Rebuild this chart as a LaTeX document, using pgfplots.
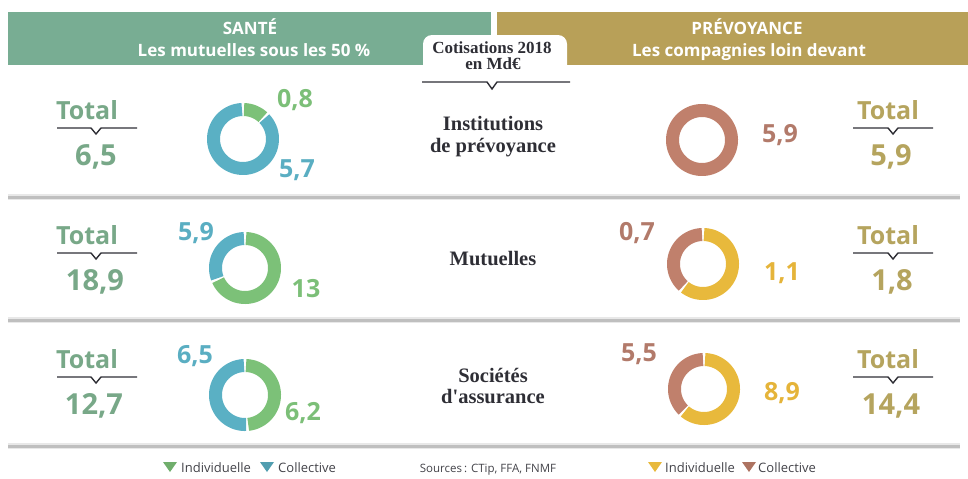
\documentclass[border=0pt]{standalone}
\usepackage{pgfplots}
\pgfplotsset{compat=1.18}
\usepackage{fontspec}
\setmainfont{Open Sans}
\newfontfamily\serif{Liberation Serif}
\definecolor{hgreen}{HTML}{78AD93}
\definecolor{hgold}{HTML}{B8A058}
\definecolor{tgreen}{HTML}{78A888}
\definecolor{tgold}{HTML}{B5A45E}
\definecolor{dgreen}{HTML}{7CC178}
\definecolor{dblue}{HTML}{5AB0C4}
\definecolor{dbrown}{HTML}{C0806C}
\definecolor{dyellow}{HTML}{E8B93C}
\definecolor{lgreen}{HTML}{7CBF78}
\definecolor{lblue}{HTML}{5AAEC2}
\definecolor{lbrown}{HTML}{B27A6A}
\definecolor{lyellow}{HTML}{E5B43A}
\definecolor{ink}{HTML}{2E2E35}
\newcommand{\hfont}{\fontsize{17}{17}\selectfont\bfseries}
\newcommand{\tfont}{\fontsize{25}{25}\selectfont\bfseries}
\newcommand{\nfont}{\fontsize{29}{29}\selectfont\bfseries}
\newcommand{\lfont}{\fontsize{25}{25}\selectfont\bfseries}
\newcommand{\cfont}{\fontsize{20.5}{22}\selectfont\serif\bfseries}
\newcommand{\gfont}{\fontsize{13}{13}\selectfont}
\begin{document}
\begin{tikzpicture}
\begin{axis}[scale only axis, width=968pt, height=477pt,
  xmin=0, xmax=968, ymin=0, ymax=477, y dir=reverse,
  hide axis, clip=false,
  seg/.style={samples=60, line width=13pt, no markers}]
\path (axis cs:0,0) rectangle (axis cs:968,477);
% headers
\fill[hgreen] (axis cs:8,12) rectangle (axis cs:491,65);
\fill[hgold] (axis cs:497,12) rectangle (axis cs:968,65);
\fill[white, rounded corners=9pt] (axis cs:423,35) rectangle (axis cs:567,90);
\node[anchor=base, text=white, font=\hfont] at (axis cs:250,34) {SANTÉ};
\node[anchor=base, text=white, font=\hfont] at (axis cs:254,56) {Les mutuelles sous les 50 \%};
\node[anchor=base, text=white, font=\hfont] at (axis cs:747,34) {PRÉVOYANCE};
\node[anchor=base, text=white, font=\hfont] at (axis cs:749,56) {Les compagnies loin devant};
\node[anchor=base, text=ink, font=\fontsize{17}{17}\selectfont\serif\bfseries] at (axis cs:492,53) {Cotisations 2018};
\node[anchor=base, text=ink, font=\fontsize{17}{17}\selectfont\serif\bfseries] at (axis cs:493,69) {en Md€};
\draw[ink, line width=1.4pt] (axis cs:422,82) -- (axis cs:487,82) -- (axis cs:492,89) -- (axis cs:497,82) -- (axis cs:570,82);
% separators
\draw[gray!18, line width=6pt] (axis cs:8,197) -- (axis cs:960,197);
\draw[gray!50, line width=3pt] (axis cs:8,197) -- (axis cs:960,197);
\draw[gray!18, line width=6pt] (axis cs:8,320) -- (axis cs:960,320);
\draw[gray!50, line width=3pt] (axis cs:8,320) -- (axis cs:960,320);
\draw[gray!18, line width=6pt] (axis cs:8,446) -- (axis cs:960,446);
\draw[gray!50, line width=3pt] (axis cs:8,446) -- (axis cs:960,446);
% Totals left
\node[anchor=base, text=tgreen, font=\tfont] at (axis cs:87,119) {Total};
\draw[ink, line width=1.4pt] (axis cs:57,128) -- (axis cs:91,128) -- (axis cs:96,134) -- (axis cs:101,128) -- (axis cs:137,128);
\node[anchor=base, text=tgreen, font=\nfont] at (axis cs:96,165) {6,5};
\node[anchor=base, text=tgreen, font=\tfont] at (axis cs:87,244) {Total};
\draw[ink, line width=1.4pt] (axis cs:57,253) -- (axis cs:91,253) -- (axis cs:96,259) -- (axis cs:101,253) -- (axis cs:137,253);
\node[anchor=base, text=tgreen, font=\nfont] at (axis cs:95,290) {18,9};
\node[anchor=base, text=tgreen, font=\tfont] at (axis cs:87,368) {Total};
\draw[ink, line width=1.4pt] (axis cs:57,377) -- (axis cs:91,377) -- (axis cs:96,383) -- (axis cs:101,377) -- (axis cs:137,377);
\node[anchor=base, text=tgreen, font=\nfont] at (axis cs:94,414) {12,7};
% Totals right
\node[anchor=base, text=tgold, font=\tfont] at (axis cs:888,119) {Total};
\draw[ink, line width=1.4pt] (axis cs:853,128) -- (axis cs:888,128) -- (axis cs:893,134) -- (axis cs:898,128) -- (axis cs:933,128);
\node[anchor=base, text=tgold, font=\nfont] at (axis cs:891,165) {5,9};
\node[anchor=base, text=tgold, font=\tfont] at (axis cs:888,244) {Total};
\draw[ink, line width=1.4pt] (axis cs:853,253) -- (axis cs:888,253) -- (axis cs:893,259) -- (axis cs:898,253) -- (axis cs:933,253);
\node[anchor=base, text=tgold, font=\nfont] at (axis cs:892,290) {1,8};
\node[anchor=base, text=tgold, font=\tfont] at (axis cs:888,368) {Total};
\draw[ink, line width=1.4pt] (axis cs:853,377) -- (axis cs:888,377) -- (axis cs:893,383) -- (axis cs:898,377) -- (axis cs:933,377);
\node[anchor=base, text=tgold, font=\nfont] at (axis cs:891,414) {14,4};
% centre labels
\node[anchor=base, text=ink, font=\cfont] at (axis cs:493,130) {Institutions};
\node[anchor=base, text=ink, font=\cfont] at (axis cs:493,152) {de prévoyance};
\node[anchor=base, text=ink, font=\cfont] at (axis cs:493,265) {Mutuelles};
\node[anchor=base, text=ink, font=\cfont] at (axis cs:493,382) {Sociétés};
\node[anchor=base, text=ink, font=\cfont] at (axis cs:493,403) {d'assurance};
% ---- donuts: Individuelle from top clockwise, Collective the rest ----
% Santé, Institutions de prévoyance: 0.8 / 5.7
\addplot[seg, dgreen, domain=2:{360*0.8/(0.8+5.7)-2}] ({243+29.5*sin(x)},{139-29.5*cos(x)});
\addplot[seg, dblue, domain={360*0.8/(0.8+5.7)+2}:358] ({243+29.5*sin(x)},{139-29.5*cos(x)});
% Santé, Mutuelles: 13 / 5.9
\addplot[seg, dgreen, domain=2:{360*13/(13+5.9)-2}] ({245+29.5*sin(x)},{268-29.5*cos(x)});
\addplot[seg, dblue, domain={360*13/(13+5.9)+2}:358] ({245+29.5*sin(x)},{268-29.5*cos(x)});
% Santé, Sociétés d'assurance: 6.2 / 6.5
\addplot[seg, dgreen, domain=2:{360*6.2/(6.2+6.5)-2}] ({245+29.5*sin(x)},{395-29.5*cos(x)});
\addplot[seg, dblue, domain={360*6.2/(6.2+6.5)+2}:358] ({245+29.5*sin(x)},{395-29.5*cos(x)});
% Prévoyance, Institutions de prévoyance: 0 / 5.9
\addplot[seg, samples=90, dbrown, domain=0:360] ({702+29.5*sin(x)},{140-29.5*cos(x)});
% Prévoyance, Mutuelles: 1.1 / 0.7
\addplot[seg, dyellow, domain=2:{360*1.1/(1.1+0.7)-2}] ({703+29.5*sin(x)},{264-29.5*cos(x)});
\addplot[seg, dbrown, domain={360*1.1/(1.1+0.7)+2}:358] ({703+29.5*sin(x)},{264-29.5*cos(x)});
% Prévoyance, Sociétés d'assurance: 8.9 / 5.5
\addplot[seg, dyellow, domain=2:{360*8.9/(8.9+5.5)-2}] ({704+29.5*sin(x)},{389-29.5*cos(x)});
\addplot[seg, dbrown, domain={360*8.9/(8.9+5.5)+2}:358] ({704+29.5*sin(x)},{389-29.5*cos(x)});
% donut value labels
\node[anchor=base, text=lgreen, font=\lfont] at (axis cs:295,107) {0,8};
\node[anchor=base, text=lblue, font=\lfont] at (axis cs:297,177) {5,7};
\node[anchor=base, text=lbrown, font=\lfont] at (axis cs:780,142) {5,9};
\node[anchor=base, text=lblue, font=\lfont] at (axis cs:196,240) {5,9};
\node[anchor=base, text=lgreen, font=\lfont] at (axis cs:306,297) {13};
\node[anchor=base, text=lbrown, font=\lfont] at (axis cs:637,240) {0,7};
\node[anchor=base, text=lyellow, font=\lfont] at (axis cs:782,280) {1,1};
\node[anchor=base, text=lblue, font=\lfont] at (axis cs:195,363) {6,5};
\node[anchor=base, text=lgreen, font=\lfont] at (axis cs:303,420) {6,2};
\node[anchor=base, text=lbrown, font=\lfont] at (axis cs:639,361) {5,5};
\node[anchor=base, text=lyellow, font=\lfont] at (axis cs:782,400) {8,9};
% legends
\fill[dgreen!90!black] (axis cs:163,462) -- (axis cs:177,462) -- (axis cs:170,472) -- cycle;
\node[anchor=base west, inner sep=0pt, text=ink!90, font=\gfont] at (axis cs:181,472) {Individuelle};
\fill[dblue!90!black] (axis cs:260,462) -- (axis cs:274,462) -- (axis cs:267,472) -- cycle;
\node[anchor=base west, inner sep=0pt, text=ink!90, font=\gfont] at (axis cs:278,472) {Collective};
\node[anchor=base, text=ink!90, font=\fontsize{11.5}{12}\selectfont] at (axis cs:488,472) {Sources\,: CTip, FFA, FNMF};
\fill[dyellow] (axis cs:648,462) -- (axis cs:662,462) -- (axis cs:655,472) -- cycle;
\node[anchor=base west, inner sep=0pt, text=ink!90, font=\gfont] at (axis cs:665,472) {Individuelle};
\fill[dbrown!90!black] (axis cs:742,462) -- (axis cs:756,462) -- (axis cs:749,472) -- cycle;
\node[anchor=base west, inner sep=0pt, text=ink!90, font=\gfont] at (axis cs:758,472) {Collective};
\end{axis}
\end{tikzpicture}
\end{document}
